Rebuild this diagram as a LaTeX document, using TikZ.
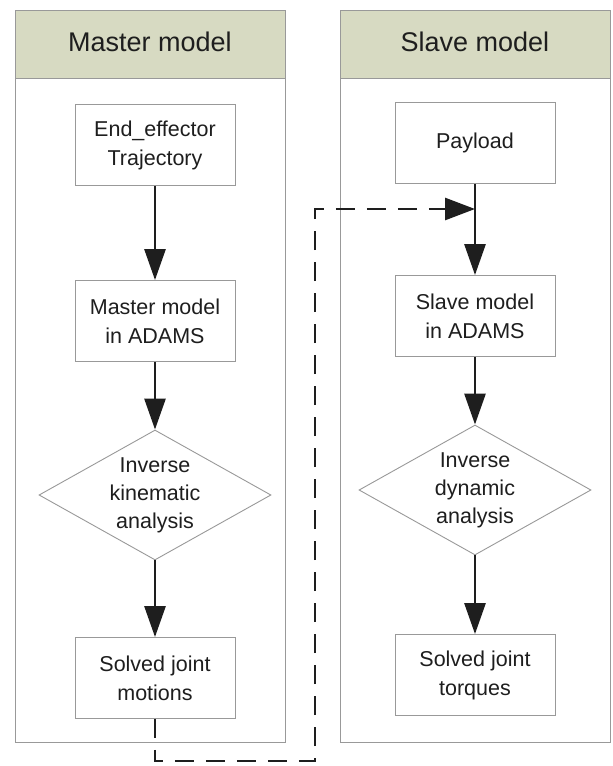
\documentclass[tikz,border=0pt]{standalone}
\usepackage{fontspec}
\setmainfont{Liberation Sans}
\usetikzlibrary{shapes.geometric,arrows.meta}
\definecolor{hdr}{HTML}{D7DAC2}
\definecolor{edge}{HTML}{999999}
\definecolor{ink}{HTML}{1E1E1E}
\tikzset{
  panel/.style={draw=edge, line width=0.9pt},
  header/.style={draw=edge, line width=0.9pt, fill=hdr},
  htext/.style={font=\fontsize{27}{31}\selectfont, text=ink},
  proc/.style={draw=edge, line width=0.9pt, fill=white, minimum width=160pt, minimum height=81pt, align=center, font=\fontsize{21.5}{29}\selectfont, text=ink, inner sep=0pt},
  dec/.style={diamond, draw=edge, line width=0.9pt, fill=white, minimum width=232pt, minimum height=130pt, aspect=1.78, inner sep=0pt, align=center, font=\fontsize{21.5}{28}\selectfont, text=ink},
  flow/.style={draw=ink, line width=2.8pt, -{Triangle[length=31pt,width=21pt]}},
  link/.style={draw=ink, line width=2.8pt, dash pattern=on 19pt off 12pt, -{Triangle[length=30pt,width=22pt]}}
}
\begin{document}
\begin{tikzpicture}[x=1pt,y=-1pt]
\useasboundingbox (0,0) rectangle (613,766);
\fill[white] (0,0) rectangle (613,766);
% panels
\draw[panel] (15,10) rectangle (285,742);
\draw[header] (15,10) rectangle (285,78);
\node[htext] (mh) at (150,42) {Master model};
\draw[panel] (340,10) rectangle (610,742);
\draw[header] (340,10) rectangle (610,78);
\node[htext] (sh) at (475,42) {Slave model};
% master column
\node[proc] (e1) at (155,145) {End\_effector\\Trajectory};
\node[proc] (m1) at (155,321) {Master model\\in ADAMS};
\node[dec]  (d1) at (155,495) {Inverse\\kinematic\\analysis};
\node[proc] (s1) at (155,678) {Solved joint\\motions};
% slave column
\node[proc] (p1) at (475,143) {Payload};
\node[proc] (m2) at (475,316) {Slave model\\in ADAMS};
\node[dec]  (d2) at (475,490) {Inverse\\dynamic\\analysis};
\node[proc] (s2) at (475,675) {Solved joint\\torques};
% arrows
\draw[flow] (e1) -- (m1);
\draw[flow] (m1) -- (d1);
\draw[flow] (d1) -- (s1);
\draw[flow] (p1) -- (m2);
\draw[flow] (m2) -- (d2);
\draw[flow] (d2) -- (s2);
% dashed link
\coordinate (c1) at (155,761);
\coordinate (c2) at (315,761);
\coordinate (c3) at (315,209);
\coordinate (j) at (475,209);
\draw[link] (s1.south) -- (c1) -- (c2) -- (c3) -- (j);
\end{tikzpicture}
\end{document}
